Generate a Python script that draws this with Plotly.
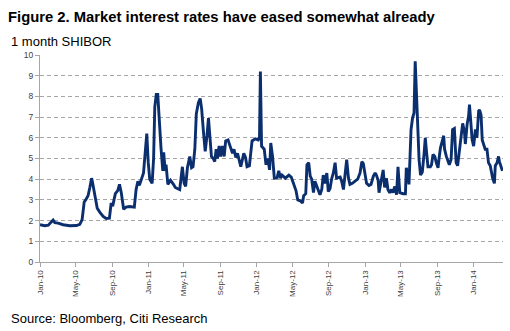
import plotly.graph_objects as go

# 1-month SHIBOR, %
dates = [
    "2010-01-01", "2010-01-17", "2010-01-29", "2010-02-05", "2010-02-14", "2010-02-20",
    "2010-03-03", "2010-03-20", "2010-04-11", "2010-05-04", "2010-05-15", "2010-05-23",
    "2010-05-30", "2010-06-04", "2010-06-12", "2010-06-18", "2010-06-24", "2010-06-27",
    "2010-07-01", "2010-07-07", "2010-07-13", "2010-07-22", "2010-08-02", "2010-08-12",
    "2010-08-23", "2010-08-29", "2010-09-03", "2010-09-12", "2010-09-20", "2010-09-26",
    "2010-10-02", "2010-10-10", "2010-10-18", "2010-10-30", "2010-11-15", "2010-11-21",
    "2010-11-27", "2010-12-02", "2010-12-10", "2010-12-16", "2010-12-20", "2010-12-27",
    "2011-01-01", "2011-01-06", "2011-01-14", "2011-01-19", "2011-01-23", "2011-01-28",
    "2011-02-02", "2011-02-07", "2011-02-13", "2011-02-19", "2011-02-22", "2011-02-27",
    "2011-03-02", "2011-03-08", "2011-03-17", "2011-03-27", "2011-04-02", "2011-04-09",
    "2011-04-17", "2011-04-26", "2011-05-02", "2011-05-07", "2011-05-13", "2011-05-21",
    "2011-05-27", "2011-06-01", "2011-06-07", "2011-06-12", "2011-06-19", "2011-06-25",
    "2011-06-30", "2011-07-06", "2011-07-12", "2011-07-18", "2011-07-23", "2011-07-27",
    "2011-08-02", "2011-08-08", "2011-08-13", "2011-08-18", "2011-08-22", "2011-08-28",
    "2011-09-02", "2011-09-08", "2011-09-14", "2011-09-19", "2011-09-27", "2011-10-05",
    "2011-10-12", "2011-10-17", "2011-10-23", "2011-10-29", "2011-11-03", "2011-11-09",
    "2011-11-19", "2011-11-25", "2011-11-30", "2011-12-08", "2011-12-17", "2011-12-28",
    "2012-01-07", "2012-01-11", "2012-01-14", "2012-01-18", "2012-01-27", "2012-02-02",
    "2012-02-08", "2012-02-14", "2012-02-18", "2012-02-24", "2012-03-01", "2012-03-10",
    "2012-03-16", "2012-03-22", "2012-03-27", "2012-04-07", "2012-04-19", "2012-04-27",
    "2012-05-02", "2012-05-08", "2012-05-13", "2012-05-19", "2012-05-28", "2012-06-04",
    "2012-06-08", "2012-06-15", "2012-06-19", "2012-06-25", "2012-06-30", "2012-07-05",
    "2012-07-11", "2012-07-16", "2012-07-22", "2012-07-28", "2012-08-02", "2012-08-08",
    "2012-08-13", "2012-08-19", "2012-08-25", "2012-08-30", "2012-09-05", "2012-09-10",
    "2012-09-16", "2012-09-22", "2012-09-27", "2012-10-09", "2012-10-14", "2012-10-20",
    "2012-10-26", "2012-10-31", "2012-11-06", "2012-11-11", "2012-11-19", "2012-11-28",
    "2012-12-07", "2012-12-15", "2012-12-21", "2012-12-26", "2013-01-01", "2013-01-06",
    "2013-01-14", "2013-01-21", "2013-01-29", "2013-02-04", "2013-02-08", "2013-02-14",
    "2013-02-17", "2013-02-25", "2013-03-03", "2013-03-08", "2013-03-14", "2013-03-19",
    "2013-03-25", "2013-03-31", "2013-04-05", "2013-04-11", "2013-04-17", "2013-04-22",
    "2013-04-28", "2013-05-09", "2013-05-17", "2013-05-20", "2013-05-26", "2013-05-29",
    "2013-06-02", "2013-06-05", "2013-06-10", "2013-06-15", "2013-06-19", "2013-06-23",
    "2013-06-25", "2013-06-29", "2013-07-02", "2013-07-07", "2013-07-13", "2013-07-19",
    "2013-07-23", "2013-07-28", "2013-08-01", "2013-08-09", "2013-08-13", "2013-08-18",
    "2013-08-24", "2013-08-29", "2013-09-04", "2013-09-07", "2013-09-12", "2013-09-23",
    "2013-09-26", "2013-10-02", "2013-10-06", "2013-10-12", "2013-10-18", "2013-10-23",
    "2013-10-29", "2013-11-04", "2013-11-09", "2013-11-15", "2013-11-20", "2013-11-26",
    "2013-12-02", "2013-12-05", "2013-12-11", "2013-12-16", "2013-12-19", "2013-12-24",
    "2013-12-28", "2014-01-02", "2014-01-08", "2014-01-13", "2014-01-19", "2014-01-22",
    "2014-01-27", "2014-01-31", "2014-02-05", "2014-02-10", "2014-02-16", "2014-02-21",
    "2014-02-27", "2014-03-03", "2014-03-07", "2014-03-13", "2014-03-16", "2014-03-22",
    "2014-03-27", "2014-03-30", "2014-04-04", "2014-04-09",
]

shibor = [
    1.80, 1.75, 1.78, 1.90, 2.03, 1.90,
    1.88, 1.80, 1.75, 1.76, 1.82, 2.05,
    2.90, 3.00, 3.20, 3.60, 4.05, 3.85,
    3.50, 2.95, 2.60, 2.40, 2.20, 2.10,
    2.12, 2.85, 2.70, 3.30, 3.45, 3.75,
    3.35, 2.55, 2.65, 2.68, 2.65, 3.50,
    3.90, 3.70, 4.00, 4.30, 5.00, 6.20,
    4.80, 4.00, 3.80, 5.00, 7.50, 8.10,
    8.10, 6.60, 5.50, 4.40, 5.30, 4.40,
    4.70, 3.75, 3.95, 3.75, 3.60, 3.55,
    3.50, 4.60, 3.80, 3.65, 4.55, 5.10,
    4.55, 4.60, 5.45, 7.15, 7.70, 7.90,
    7.40, 6.30, 5.35, 6.10, 6.95, 6.20,
    5.10, 5.00, 4.85, 5.45, 5.00, 5.60,
    5.10, 5.60, 5.10, 5.85, 5.90, 5.55,
    5.25, 5.45, 5.05, 5.25, 4.95, 4.60,
    5.25, 5.05, 4.60, 4.65, 5.85, 5.95,
    5.90, 6.00, 9.20, 5.60, 5.45, 4.70,
    5.00, 4.45, 5.75, 5.10, 4.05, 4.05,
    4.40, 4.05, 4.20, 4.05, 4.20, 4.10,
    3.90, 3.60, 3.45, 3.00, 2.95, 2.85,
    3.20, 3.30, 4.70, 4.80, 4.15, 4.00,
    3.35, 3.90, 3.65, 3.50, 3.25, 3.50,
    4.20, 3.80, 4.30, 3.40, 3.55, 4.00,
    4.30, 4.80, 4.05, 4.10, 3.90, 3.50,
    4.15, 4.95, 4.05, 3.75, 3.80, 3.90,
    4.00, 4.30, 4.85, 4.75, 4.15, 3.80,
    3.70, 3.75, 4.15, 4.30, 4.20, 3.95,
    3.35, 4.00, 4.45, 3.60, 4.05, 3.50,
    3.35, 3.50, 3.35, 3.65, 3.25, 4.60,
    3.35, 3.30, 3.30, 4.55, 4.15, 3.75,
    5.00, 6.40, 6.95, 7.20, 9.70, 8.00,
    7.30, 6.10, 4.95, 4.20, 4.35, 5.25,
    6.00, 5.20, 4.60, 4.60, 4.70, 5.20,
    5.10, 4.80, 4.55, 4.95, 5.50, 6.10,
    5.45, 5.10, 4.95, 4.70, 4.95, 6.40,
    6.45, 4.80, 4.65, 5.45, 6.00, 6.70,
    6.30, 5.70, 6.65, 7.05, 7.60, 6.75,
    5.90, 5.60, 6.40, 6.00, 7.30, 7.35,
    7.10, 5.90, 5.65, 5.45, 5.45, 4.80,
    4.65, 4.30, 4.05, 3.80, 4.65, 4.80,
    5.10, 4.85, 4.55, 4.40,
]

tick_dates = [
    "2010-01-01", "2010-05-01", "2010-09-01", "2011-01-01", "2011-05-01",
    "2011-09-01", "2012-01-01", "2012-05-01", "2012-09-01", "2013-01-01",
    "2013-05-01", "2013-09-01", "2014-01-01",
]
tick_labels = [
    "Jan-10", "May-10", "Sep-10", "Jan-11", "May-11", "Sep-11", "Jan-12",
    "May-12", "Sep-12", "Jan-13", "May-13", "Sep-13", "Jan-14",
]

FONT = "Liberation Sans, Arial, sans-serif"
LINE = "#0b2f6e"
AXIS = "#a6a6a6"

fig = go.Figure()
fig.add_trace(go.Scatter(
    x=dates, y=shibor, mode="lines",
    line=dict(color=LINE, width=2.9, shape="linear"),
    showlegend=False,
))

fig.update_layout(
    width=510, height=331,
    margin=dict(l=39.5, r=7, t=55, b=69.3),
    paper_bgcolor="white", plot_bgcolor="white",
    font=dict(family=FONT, color="#000000"),
    title=dict(
        text="<b>Figure 2. Market interest rates have eased somewhat already</b>",
        x=8 / 510, xanchor="left", xref="container",
        y=1 - 17 / 331, yanchor="middle", yref="container",
        font=dict(family=FONT, size=14.8, color="#000000"),
    ),
    annotations=[
        dict(text="1 month SHIBOR", xref="paper", yref="paper",
             x=-31 / 463.5, y=(261.7 - 41.5) / 206.7, xanchor="left", yanchor="middle",
             showarrow=False, font=dict(family=FONT, size=13, color="#000000")),
        dict(text="Source: Bloomberg, Citi Research", xref="paper", yref="paper",
             x=-31 / 463.5, y=(261.7 - 318) / 206.7, xanchor="left", yanchor="middle",
             showarrow=False, font=dict(family=FONT, size=13, color="#000000")),
    ],
)

fig.update_xaxes(
    type="date",
    range=["2010-01-01", "2014-04-11"],
    tickvals=tick_dates, ticktext=tick_labels, tickangle=-90,
    tickfont=dict(family=FONT, size=8, color="#404040"),
    showgrid=False, zeroline=False,
    showline=True, linecolor=AXIS, linewidth=1,
    ticks="outside", ticklen=4, tickcolor=AXIS, tickwidth=1,
)

fig.update_yaxes(
    range=[0, 10], tick0=0, dtick=1,
    tickfont=dict(family=FONT, size=8.5, color="#404040"),
    showgrid=True, gridcolor=AXIS, gridwidth=1, griddash="4px,3px",
    zeroline=False,
    showline=True, linecolor=AXIS, linewidth=1,
    ticks="outside", ticklen=4, tickcolor=AXIS, tickwidth=1,
)

fig.write_html("out.html")
